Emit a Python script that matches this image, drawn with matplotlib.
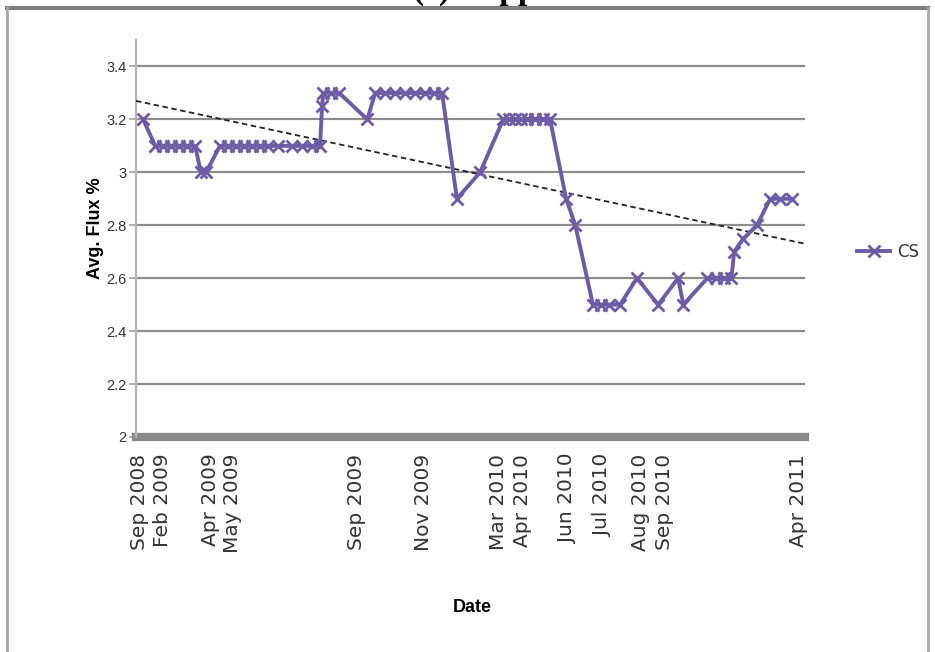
import matplotlib.pyplot as plt
from matplotlib.lines import Line2D

# positions along the category axis (one step per sample slot) and Avg. Flux % for CS
cs_pos = [0.9, 2.4, 3.4, 4.4, 5.4, 6.4, 7.4, 8.1, 8.75,
          10.5, 11.5, 12.5, 13.5, 14.5, 15.5, 16.5, 17.75, 19.5, 20.75, 22, 23,
          23.25, 23.4, 24.4, 25.4, 28.9,
          29.9, 31.1, 32.4, 33.6, 34.9, 36.1, 37.25, 38.25,
          40.1, 43,
          45.9, 46.6, 47.4, 48.1, 48.9, 49.9, 50.9, 51.75,
          53.75, 54.9,
          57.1, 58.1, 59.1, 60.5, 62.6, 65.25, 67.75, 68.4,
          71.4, 72.5, 73.5, 74.4, 74.75, 75.9, 77.6, 79.25, 80.5, 82]
cs_flux = [3.2, 3.1, 3.1, 3.1, 3.1, 3.1, 3.1, 3.0, 3.0,
           3.1, 3.1, 3.1, 3.1, 3.1, 3.1, 3.1, 3.1, 3.1, 3.1, 3.1, 3.1,
           3.25, 3.3, 3.3, 3.3, 3.2,
           3.3, 3.3, 3.3, 3.3, 3.3, 3.3, 3.3, 3.3,
           2.9, 3.0,
           3.2, 3.2, 3.2, 3.2, 3.2, 3.2, 3.2, 3.2,
           2.9, 2.8,
           2.5, 2.5, 2.5, 2.5, 2.6, 2.5, 2.6, 2.5,
           2.6, 2.6, 2.6, 2.6, 2.7, 2.75, 2.8, 2.9, 2.9, 2.9]

# linear trend line (start / end of the plot area)
trend_pos = [0, 83.6]
trend_flux = [3.27, 2.73]

# date labels shown on the category axis
date_pos = [0.4, 3.25, 9.25, 12, 27.5, 35.9, 45.25, 48.25, 53.9, 58.25, 63, 66.1, 82.75]
date_labels = ['Sep 2008', 'Feb 2009', 'Apr 2009', 'May 2009', 'Sep 2009', 'Nov 2009',
               'Mar 2010', 'Apr 2010', 'Jun 2010', 'Jul 2010', 'Aug 2010', 'Sep 2010',
               'Apr 2011']

y_ticks = [2, 2.2, 2.4, 2.6, 2.8, 3, 3.2, 3.4]

W, H = 935, 652
fig = plt.figure(figsize=(W / 100, H / 100), dpi=100)
ax = fig.add_axes([136 / W, (H - 437) / H, (805 - 136) / W, (437 - 40) / H])
ax.set_xlim(0, 83.6)
ax.set_ylim(2, 3.5)

# gridlines and the heavy category axis bar
for v in y_ticks[1:]:
    ax.axhline(v, color='#8c8c8c', lw=1.6, zorder=1)
ax.axhline(2, color='#8a8a8a', lw=6, zorder=2, clip_on=False)

# data + trend
ax.plot(cs_pos, cs_flux, color='#6b5ca5', lw=2.8, marker='x', markersize=8,
        mew=2, label='CS', zorder=4)
ax.plot(trend_pos, trend_flux, color='#222222', lw=1.3, ls=(0, (3, 2)), zorder=3)

for side in ['top', 'right', 'bottom']:
    ax.spines[side].set_visible(False)
ax.spines['left'].set_color('#b5b5b5')
ax.spines['left'].set_linewidth(1.6)

ax.set_yticks(y_ticks)
ax.set_yticklabels(['{:g}'.format(v) for v in y_ticks], family='Liberation Sans')
ax.tick_params(axis='y', length=5, width=1.2, color='#a0a0a0', labelsize=10.5,
               labelcolor='#333333', pad=2)
ax.set_xticks(date_pos)
ax.set_xticklabels(date_labels, rotation=90, fontsize=14.5, color='#333333')
ax.tick_params(axis='x', length=0, pad=12)

fig.text(95 / W, 1 - 228 / H, 'Avg. Flux %', rotation=90, ha='center', va='center',
         fontsize=13, fontweight='bold', family='Liberation Sans')
fig.text(472 / W, 1 - 607 / H, 'Date', ha='center', va='center',
         fontsize=13, fontweight='bold', family='Liberation Sans')

fig.legend(loc='center left', bbox_to_anchor=(842 / W, 1 - 252 / H), frameon=False,
           fontsize=12, handlelength=2.0, handletextpad=0.4, labelcolor='#333333')

# title from the page above, mostly cut off
fig.text(490 / W, 1 + 1 / H, '(c) Copper', ha='center', va='baseline', fontsize=24,
         fontweight='bold', family='Liberation Serif')

# chart area border
fig.add_artist(Line2D([7 / W, 928 / W], [1 - 8 / H, 1 - 8 / H], color='#7f7f7f', lw=3))
fig.add_artist(Line2D([7 / W, 7 / W], [0, 1 - 8 / H], color='#a6a6a6', lw=2))
fig.add_artist(Line2D([928 / W, 928 / W], [0, 1 - 8 / H], color='#a6a6a6', lw=2))

fig.savefig('out.png', dpi=100)
